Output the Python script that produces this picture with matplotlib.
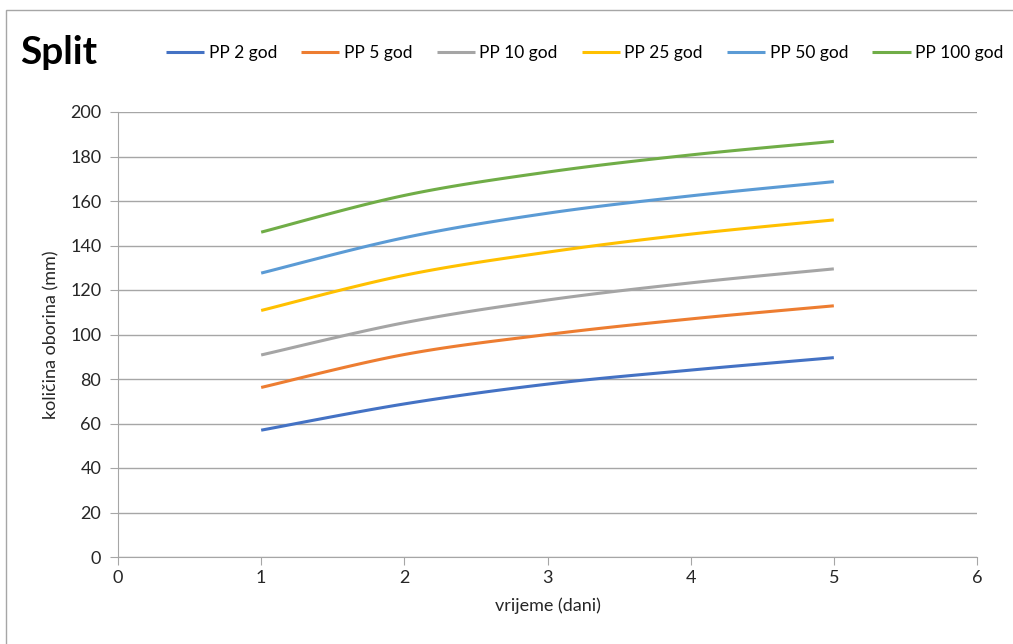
import numpy as np
import matplotlib.pyplot as plt
from matplotlib.patches import Rectangle

plt.rcParams['font.family'] = ['Lato', 'DejaVu Sans']

dani = [1, 2, 3, 4, 5]
serije = ['PP 2 god', 'PP 5 god', 'PP 10 god', 'PP 25 god', 'PP 50 god', 'PP 100 god']
pp2 = [57.0, 68.8, 77.7, 84.0, 89.6]
pp5 = [76.2, 91.0, 100.0, 107.0, 112.9]
pp10 = [90.8, 105.3, 115.5, 123.2, 129.5]
pp25 = [110.8, 126.6, 137.0, 145.1, 151.5]
pp50 = [127.6, 143.5, 154.5, 162.3, 168.7]
pp100 = [146.0, 162.5, 173.0, 180.7, 186.8]
boje = ['#4472c4', '#ed7d31', '#a5a5a5', '#ffc000', '#5b9bd5', '#70ad47']


def smooth(x, y, n=30):
    # excel-like smoothed line (bezier through the points)
    x = np.asarray(x, float)
    y = np.asarray(y, float)
    px = np.concatenate([[x[0]], x, [x[-1]]])
    py = np.concatenate([[y[0]], y, [y[-1]]])
    xs, ys = [], []
    t = np.linspace(0, 1, n)
    for i in range(1, len(px) - 2):
        p0 = np.array([px[i], py[i]])
        p3 = np.array([px[i + 1], py[i + 1]])
        p1 = p0 + (np.array([px[i + 1], py[i + 1]]) - np.array([px[i - 1], py[i - 1]])) / 6
        p2 = p3 - (np.array([px[i + 2], py[i + 2]]) - np.array([px[i], py[i]])) / 6
        b = ((1 - t) ** 3)[:, None] * p0 + (3 * (1 - t) ** 2 * t)[:, None] * p1 \
            + (3 * (1 - t) * t ** 2)[:, None] * p2 + (t ** 3)[:, None] * p3
        xs.extend(b[:, 0])
        ys.extend(b[:, 1])
    return xs, ys


fig = plt.figure(figsize=(10.13, 6.44), dpi=100)
ax = fig.add_axes([118 / 1013, 1 - 557 / 644, (977 - 118) / 1013, (557 - 112) / 644])

# chart border
fig.patches.append(Rectangle((6 / 1013, -0.1), 1.2, 1 - 10 / 644 + 0.1, transform=fig.transFigure,
                             fill=False, edgecolor='#a6a6a6', linewidth=1))

for vals, naziv, c in zip([pp2, pp5, pp10, pp25, pp50, pp100], serije, boje):
    sx, sy = smooth(dani, vals)
    ax.plot(sx, sy, color=c, linewidth=2.2, label=naziv, solid_capstyle='butt')

ax.set_xlim(0, 6)
ax.set_ylim(0, 200)
ax.set_xticks(range(0, 7))
ax.set_yticks(range(0, 201, 20))
ax.yaxis.grid(True, color='#a6a6a6', linewidth=1)
ax.set_axisbelow(True)
for s in ['top', 'right']:
    ax.spines[s].set_visible(False)
for s in ['left', 'bottom']:
    ax.spines[s].set_color('#a6a6a6')
ax.tick_params(axis='both', colors='#a6a6a6', labelcolor='#262626', labelsize=13, length=6)
ax.tick_params(axis='y', pad=6)
ax.set_xlabel('vrijeme (dani)', fontsize=13, color='#262626', labelpad=8)
ax.set_ylabel('količina oborina (mm)', fontsize=13, color='#262626', labelpad=8)

fig.text(20 / 1013, 1 - 53 / 644, 'Split', fontsize=28, fontweight='bold', va='center', ha='left')
fig.legend(loc='center left', bbox_to_anchor=(166 / 1013, 1 - 53 / 644), ncol=6, frameon=False,
           fontsize=12.5, handlelength=2.2, handletextpad=0.25, columnspacing=1.4, borderaxespad=0,
           borderpad=0)

fig.savefig('out.png', dpi=100)
